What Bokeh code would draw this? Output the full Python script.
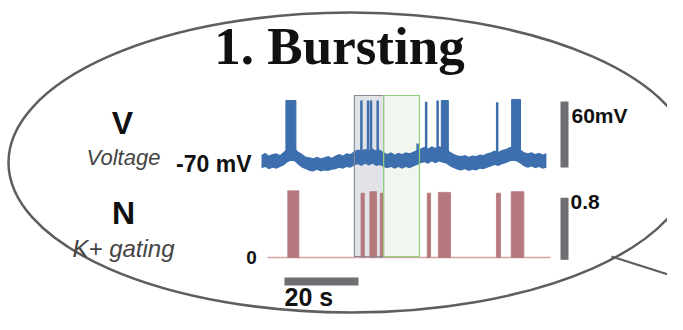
from bokeh.plotting import figure
from bokeh.models import Range1d, Label
from bokeh.embed import file_html
from bokeh.resources import INLINE

# ---------------- data ----------------
# membrane voltage trace: noisy band, lower / upper envelope (mV) vs time (s)
t_env = list(range(78))
v_hi = [-65, -63, -65.5, -64, -63.5, -65, -62, -59, -57.5, -59,
        -62, -64, -66.5, -67, -68, -66.5, -68, -67, -66, -67.5,
        -65.5, -64, -65.5, -63.5, -64, -61.5, -60, -61, -59.5, -60.5,
        -59, -61, -60, -62.5, -64, -62.5, -64.5, -63, -64, -62.5,
        -63.5, -62, -60.5, -59, -57.5, -59, -57, -58.5, -57, -58,
        -59.5, -62, -64, -65.5, -66, -65, -66.5, -65.5, -66, -64.5,
        -65, -63.5, -62.5, -61, -62, -60.5, -59.5, -58, -57, -58,
        -60, -62.5, -63.5, -62.5, -64, -63, -64.5, -63.5]
v_lo = [-77, -76, -78, -76.5, -77.5, -76, -74.5, -71.5, -70, -71,
        -74, -76.5, -78, -79.5, -80, -78.5, -80, -79, -79.5, -78.5,
        -78, -76.5, -77.5, -76, -76.5, -74.5, -73.5, -75, -73, -74.5,
        -73, -75, -74, -76, -77, -76, -77.5, -76, -77.5, -76,
        -77, -75.5, -74, -72.5, -71.5, -73, -71, -72.5, -71, -72,
        -73, -75.5, -77, -78.5, -79, -78, -79.5, -78.5, -79, -77.5,
        -78, -76.5, -75.5, -74, -75, -73.5, -72.5, -71, -70, -71,
        -73, -75.5, -76.5, -75.5, -77, -76, -77.5, -76.5]
# isolated spikes (s, peak mV)
spike_t = [27.0, 28.8, 29.6, 31.4, 42.2, 44.5, 47.6, 63.7]
spike_peak = [-15.5, -15.5, -15.5, -15.5, -54.5, -16.5, -15.5, -17]
# bursts (dense spike trains)
burst_start = [6.6, 48.6, 67.6]
burst_end = [9.3, 50.5, 70.0]
burst_peak = [-15.5, -15.5, -14.5]
V_REST = -70

# K+ gating variable N: pulses (s) and heights
n_start = [7.1, 26.9, 29.3, 32.1, 44.8, 47.8, 63.5, 67.5]
n_end = [10.1, 27.8, 31.1, 32.8, 45.7, 51.1, 64.6, 70.9]
n_peak = [0.86, 0.83, 0.85, 0.83, 0.83, 0.84, 0.83, 0.85]
n_axis_t = [1.6, 78.1]

# highlighted windows (s)
gray_win = [25.1, 33.0]
green_win = [33.0, 42.7]

# scale bars
SCALE_V, SCALE_N, SCALE_T = 60, 0.8, 20
V_BAR_FROM, N_BAR_FROM, T_BAR_FROM = -76.4, -0.03, 6.2

# ---------------- layout (reference pixels) ----------------
W, H = 667, 314
REF_H = 330
X0_PX, PX_PER_S = 261, 3.7
V_REST_PX, PX_PER_MV = 160, 1.1
N0_PX, PX_PER_N = 257, 77.5


def sy(y):
    return REF_H - y


p = figure(width=W, height=H, output_backend="svg", toolbar_location=None,
           x_range=Range1d(0, W), y_range=Range1d(REF_H - H, REF_H),
           x_axis_location=None, y_axis_location=None, min_border=0,
           outline_line_color=None, background_fill_color="white",
           border_fill_color="white")
p.grid.visible = False
p.min_border_left = p.min_border_right = p.min_border_top = p.min_border_bottom = 0

p.extra_x_ranges = {"t": Range1d(-X0_PX / PX_PER_S, (W - X0_PX) / PX_PER_S)}
p.extra_y_ranges = {
    "v": Range1d(V_REST - (H - V_REST_PX) / PX_PER_MV, V_REST + V_REST_PX / PX_PER_MV),
    "n": Range1d(-(H - N0_PX) / PX_PER_N, N0_PX / PX_PER_N),
}

BOX_TOP, BOX_BOT = sy(95), sy(256)

# window fills
p.quad(left=[gray_win[0]], right=[gray_win[1]], bottom=[BOX_BOT], top=[BOX_TOP],
       x_range_name="t", fill_color="#e2e3e8", line_color=None)
p.quad(left=[green_win[0]], right=[green_win[1]], bottom=[BOX_BOT], top=[BOX_TOP],
       x_range_name="t", fill_color="#f1f7ee", line_color=None)

VCOL = "#3d6fae"
p.varea(x=t_env, y1=v_lo, y2=v_hi, x_range_name="t", y_range_name="v", fill_color=VCOL)
p.segment(x0=spike_t, y0=[V_REST] * len(spike_t), x1=spike_t, y1=spike_peak,
          x_range_name="t", y_range_name="v", line_color=VCOL, line_width=2.5)
p.quad(left=burst_start, right=burst_end, bottom=[V_REST] * len(burst_start), top=burst_peak,
       x_range_name="t", y_range_name="v", fill_color=VCOL, line_color=VCOL, line_width=1)

NCOL = "#b5797d"
p.line(x=n_axis_t, y=[0, 0], x_range_name="t", y_range_name="n",
       line_color="#d6a3a3", line_width=1.5)
p.quad(left=n_start, right=n_end, bottom=[0] * len(n_start), top=n_peak,
       x_range_name="t", y_range_name="n", fill_color=NCOL, line_color=NCOL, line_width=0.8)

# window outlines
p.quad(left=[gray_win[0]], right=[gray_win[1]], bottom=[BOX_BOT], top=[BOX_TOP],
       x_range_name="t", fill_color=None, line_color="#858a99", line_width=1.2)
p.quad(left=[green_win[0]], right=[green_win[1]], bottom=[BOX_BOT], top=[BOX_TOP],
       x_range_name="t", fill_color=None, line_color="#92d07f", line_width=1.2)

# scale bars
BARCOL = "#6e6f72"
p.quad(left=[560], right=[568], bottom=[V_BAR_FROM], top=[V_BAR_FROM + SCALE_V],
       y_range_name="v", fill_color=BARCOL, line_color=None)
p.quad(left=[560], right=[568], bottom=[N_BAR_FROM], top=[N_BAR_FROM + SCALE_N],
       y_range_name="n", fill_color=BARCOL, line_color=None)
p.quad(left=[T_BAR_FROM], right=[T_BAR_FROM + SCALE_T], bottom=[sy(285)], top=[sy(277)],
       x_range_name="t", fill_color=BARCOL, line_color=None)

# ellipse bubble and its tail
p.ellipse(x=[350], y=[sy(162)], width=684, height=300, fill_color=None,
          line_color="#5e5e5e", line_width=2.5)
p.line(x=[611, 690], y=[sy(256), sy(281)], line_color="#5e5e5e", line_width=2.2)


def lab(x, y, text, size, font="Liberation Sans", style="bold", align="center",
        color="#111111", shift=0.30):
    px = int(size.replace("px", ""))
    p.add_layout(Label(x=x, y=sy(y - shift * px), text=text, text_font=font,
                       text_font_size=size, text_font_style=style, text_align=align,
                       text_baseline="alphabetic", text_color=color))


lab(339, 65, "1. Bursting", "53px", font="Liberation Serif", shift=0.36)
lab(122, 132, "V", "32px")
lab(123, 164, "Voltage", "22px", style="italic", color="#444444")
lab(251, 170, "-70 mV", "23px", align="right")
lab(123, 222, "N", "32px")
lab(123, 255, "K+ gating", "24px", style="italic", color="#444444")
lab(251, 263, "0", "19px")
lab(571, 121, f"{SCALE_V}mV", "21px", align="left")
lab(570, 208, f"{SCALE_N}", "21px", align="left")
lab(284, 304, f"{SCALE_T} s", "25px", align="left")

open("out.html", "w").write(file_html(p, INLINE))
